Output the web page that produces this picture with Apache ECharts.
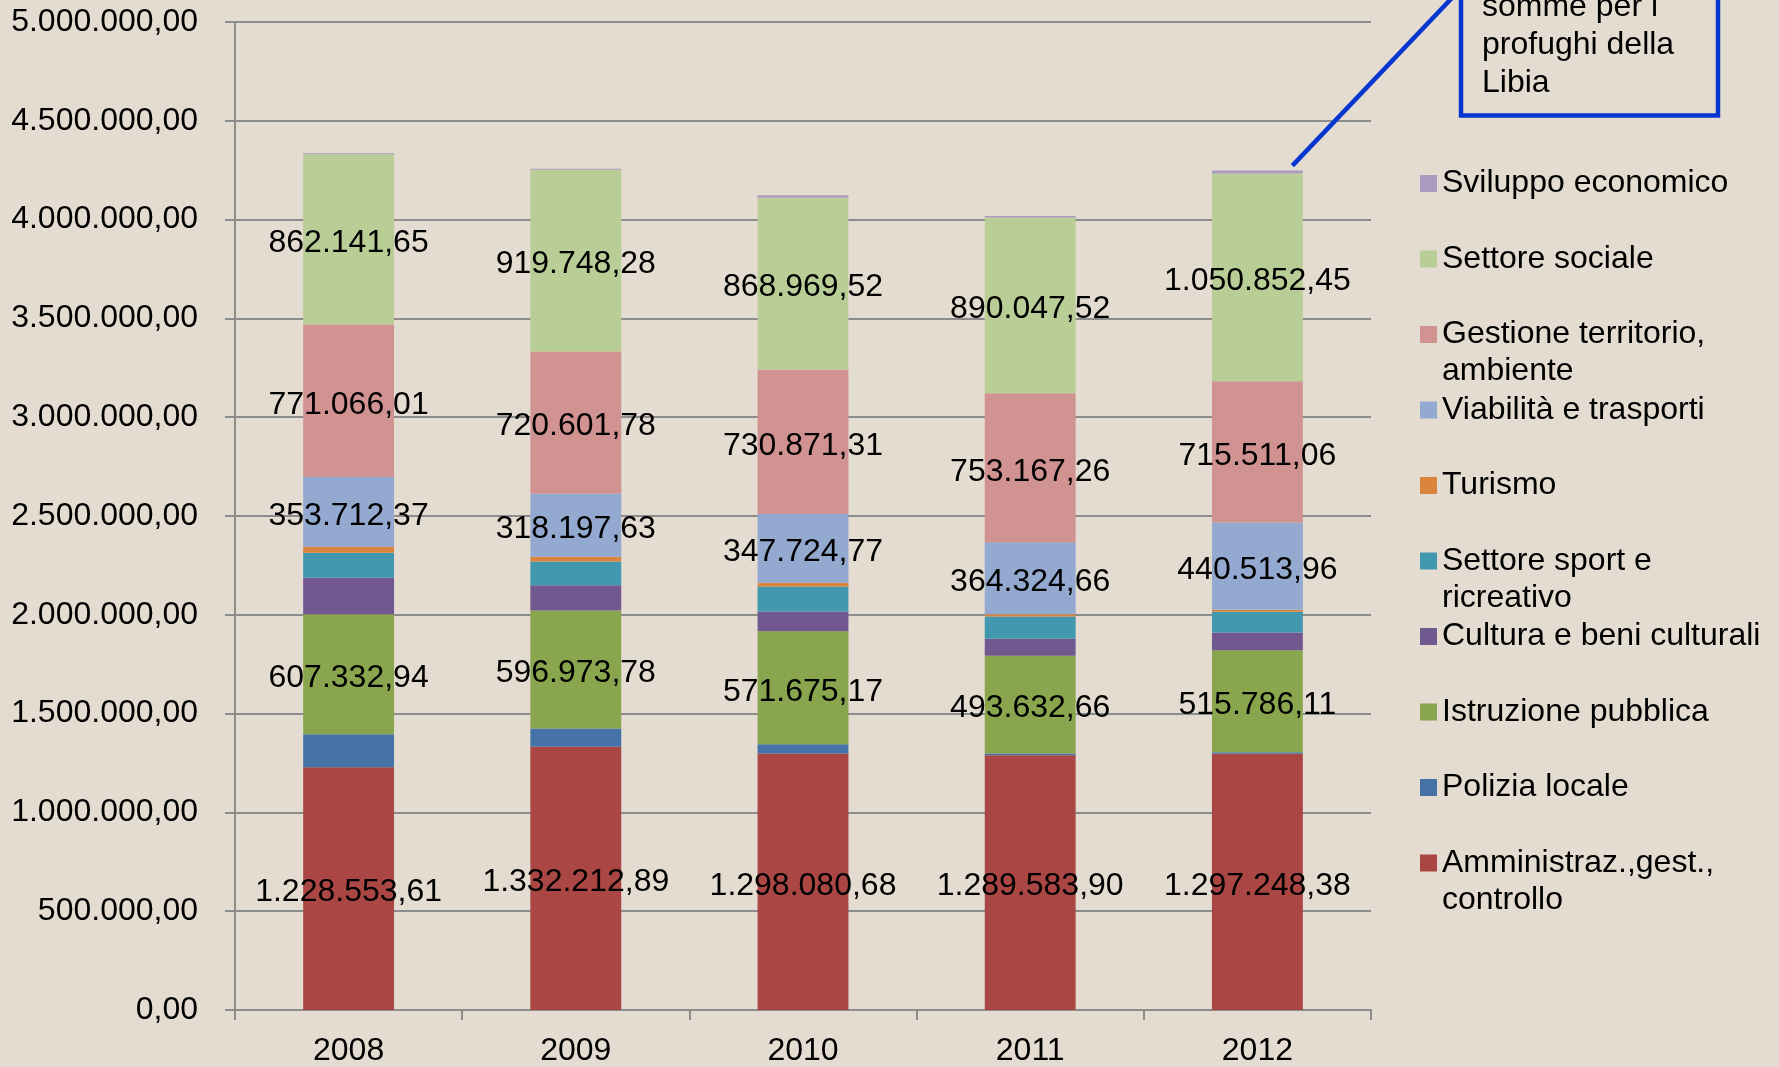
<!DOCTYPE html>
<html>
<head>
<meta charset="utf-8">
<script src="https://cdn.jsdelivr.net/npm/echarts@6/dist/echarts.min.js"></script>
<style>
html,body{margin:0;padding:0;background:#E4DCD0;}
#chart{width:1779px;height:1067px;}
</style>
</head>
<body>
<div id="chart"></div>
<script>
const years = ['2008', '2009', '2010', '2011', '2012'];

// series, bottom of stack first
const amministrazione = [1228553.61, 1332212.89, 1298080.68, 1289583.90, 1297248.38];
const polizia = [167000, 92000, 47000, 9000, 7000];
const istruzione = [607332.94, 596973.78, 571675.17, 493632.66, 515786.11];
const cultura = [185000, 128000, 100000, 87000, 90000];
const sport = [126000, 120000, 126000, 112000, 105000];
const turismo = [30000, 25000, 20000, 12000, 11000];
const viabilita = [353712.37, 318197.63, 347724.77, 364324.66, 440513.96];
const gestione = [771066.01, 720601.78, 730871.31, 753167.26, 715511.06];
const sociale = [862141.65, 919748.28, 868969.52, 890047.52, 1050852.45];
const sviluppo = [5000, 5000, 13000, 8000, 15000];

const yTicks = { min: 0, max: 5000000, interval: 500000 };

const seriesDefs = [
  { name: 'Amministraz.,gest., controllo', lines: ['Amministraz.,gest.,', 'controllo'], data: amministrazione, color: '#AA4643', label: true },
  { name: 'Polizia locale', lines: ['Polizia locale'], data: polizia, color: '#4572A7', label: false },
  { name: 'Istruzione pubblica', lines: ['Istruzione pubblica'], data: istruzione, color: '#89A54E', label: true },
  { name: 'Cultura e beni culturali', lines: ['Cultura e beni culturali'], data: cultura, color: '#71588F', label: false },
  { name: 'Settore sport e ricreativo', lines: ['Settore sport e', 'ricreativo'], data: sport, color: '#4198AF', label: false },
  { name: 'Turismo', lines: ['Turismo'], data: turismo, color: '#DB843D', label: false },
  { name: 'Viabilità e trasporti', lines: ['Viabilità e trasporti'], data: viabilita, color: '#93A9CF', label: true },
  { name: 'Gestione territorio, ambiente', lines: ['Gestione territorio,', 'ambiente'], data: gestione, color: '#D19392', label: true },
  { name: 'Settore sociale', lines: ['Settore sociale'], data: sociale, color: '#B9CD96', label: true },
  { name: 'Sviluppo economico', lines: ['Sviluppo economico'], data: sviluppo, color: '#A99BBD', label: false }
];

const FONT = "'Liberation Sans', Arial, sans-serif";

function fmtIt(v) {
  const fixed = Math.abs(v).toFixed(2);
  const parts = fixed.split('.');
  const intPart = parts[0].replace(/\B(?=(\d{3})+(?!\d))/g, '.');
  return (v < 0 ? '-' : '') + intPart + ',' + parts[1];
}

const series = seriesDefs.map(d => ({
  name: d.name,
  type: 'bar',
  stack: 'total',
  barWidth: '40%',
  data: d.data,
  itemStyle: { color: d.color },
  label: {
    show: d.label,
    position: 'inside',
    offset: [0, 4],
    formatter: p => fmtIt(p.value),
    color: '#000',
    fontSize: 32,
    fontFamily: FONT
  },
  emphasis: { disabled: true },
  animation: false
}));

// one legend per item so spacing follows the reference (top to bottom: reverse stack order)
const legendTop0 = 183.5, legendStep = 75.5;
const legends = seriesDefs.slice().reverse().map((d, i) => {
  const c = legendTop0 + legendStep * i;
  const two = d.lines.length > 1;
  return {
    data: [d.name],
    left: 1420,
    top: two ? c - 55.5 : c - 18.5,
    orient: 'vertical',
    padding: 0,
    itemWidth: 17,
    itemHeight: 17,
    icon: 'rect',
    selectedMode: false,
    formatter: () => (two ? '\n' : '') + d.lines.join('\n'),
    textStyle: { fontSize: 32, fontFamily: FONT, color: '#000', lineHeight: 37 }
  };
});

const chart = echarts.init(document.getElementById('chart'), null, { renderer: 'canvas' });

const option = {
  backgroundColor: '#E4DCD0',
  animation: false,
  grid: { left: 235, right: 408, top: 22, bottom: 55, containLabel: false },
  legend: legends,
  xAxis: {
    type: 'category',
    data: years,
    axisLine: { lineStyle: { color: '#8C8C8C', width: 2 } },
    axisTick: { show: true, length: 10, lineStyle: { color: '#8C8C8C', width: 2 } },
    axisLabel: { color: '#000', fontSize: 32, fontFamily: FONT, margin: 25 }
  },
  yAxis: {
    type: 'value',
    min: yTicks.min,
    max: yTicks.max,
    interval: yTicks.interval,
    axisLine: { show: true, lineStyle: { color: '#8C8C8C', width: 2 } },
    axisTick: { show: true, length: 10, lineStyle: { color: '#8C8C8C', width: 2 } },
    splitLine: { show: true, lineStyle: { color: '#8C8C8C', width: 2 } },
    axisLabel: { color: '#000', fontSize: 32, fontFamily: FONT, margin: 37, formatter: v => fmtIt(v) }
  },
  series: series
};
chart.setOption(option);

// annotation: callout box and leader line to the 2012 bar top
const lastIdx = years.length - 1;
const total2012 = seriesDefs.reduce((s, d) => s + d.data[lastIdx], 0);
const pt = chart.convertToPixel({ gridIndex: 0 }, [years[lastIdx], total2012]);
const sx = pt[0] + 35, sy = pt[1] - 5;
chart.setOption({
  graphic: [
    {
      type: 'line',
      shape: { x1: sx, y1: sy, x2: sx + (sy + 12) * (157 / 165), y2: -12 },
      style: { stroke: '#0636D0', lineWidth: 4.5 },
      silent: true
    },
    {
      type: 'rect',
      shape: { x: 1461, y: -60, width: 257, height: 175.5 },
      style: { fill: 'transparent', stroke: '#0636D0', lineWidth: 4.5 },
      silent: true
    },
    {
      type: 'text',
      left: 1482,
      top: -12,
      style: {
        text: 'somme per i\nprofughi della\nLibia',
        font: "32px 'Liberation Sans', Arial, sans-serif",
        lineHeight: 38,
        fill: '#000',
        verticalAlign: 'top'
      },
      silent: true
    }
  ]
});
</script>
</body>
</html>
